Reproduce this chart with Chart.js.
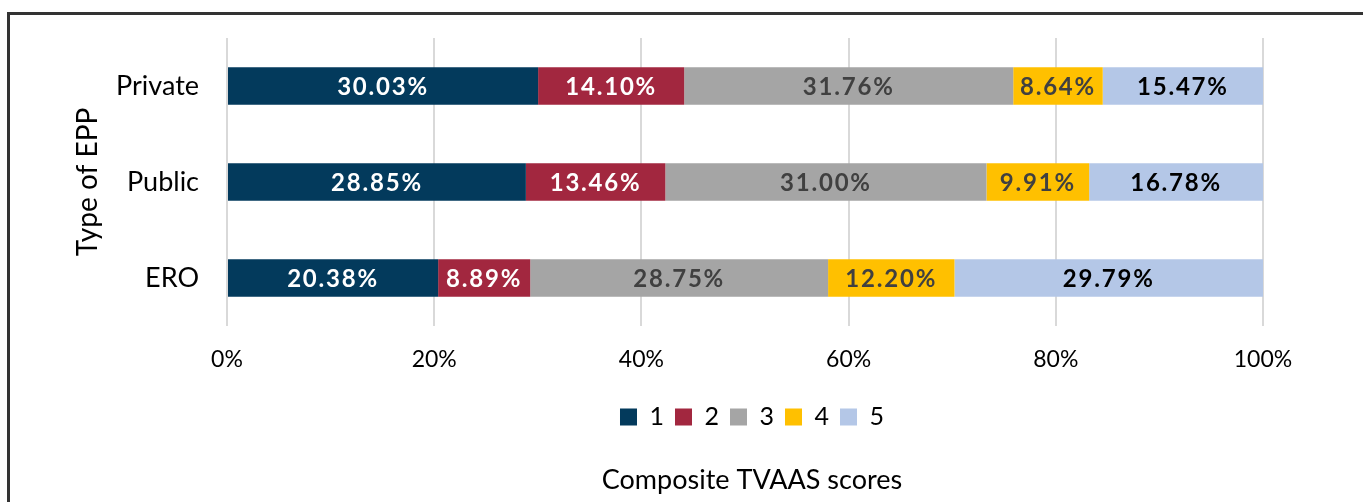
<!DOCTYPE html>
<html>
<head>
<meta charset="utf-8">
<script src="https://cdn.jsdelivr.net/npm/chart.js@4"></script>
<style>
  html, body { margin: 0; padding: 0; background: #fff; }
  #wrap { position: relative; width: 1363px; height: 502px; overflow: hidden; }
  #frame {
    position: absolute; left: 7px; top: 12px; right: -10px; bottom: -10px;
    border-top: 3px solid #333; border-left: 3px solid #333;
    pointer-events: none;
  }
</style>
</head>
<body>
<div id="wrap">
  <canvas id="chart" width="1363" height="502"></canvas>
  <div id="frame"></div>
</div>
<script>
// Datos
const categories = ['Private', 'Public', 'ERO'];
const seriesNames = ['1', '2', '3', '4', '5'];
const score1 = [30.03, 28.85, 20.38];
const score2 = [14.10, 13.46, 8.89];
const score3 = [31.76, 31.00, 28.75];
const score4 = [8.64, 9.91, 12.20];
const score5 = [15.47, 16.78, 29.79];
const xTicks = [0, 20, 40, 60, 80, 100];

const colors = ['#033A5C', '#A2273F', '#A5A5A5', '#FFC000', '#B4C7E7'];
const labelColors = ['#ffffff', '#ffffff', '#404040', '#404040', '#000000'];
const allSeries = [score1, score2, score3, score4, score5];

const FONT = 'Lato, "Open Sans", sans-serif';

// Etiquetas de valor dentro de cada segmento
const barLabels = {
  id: 'barLabels',
  afterDatasetsDraw(chart) {
    const ctx = chart.ctx;
    ctx.save();
    ctx.font = 'bold 24px ' + FONT;
    ctx.textAlign = 'center';
    ctx.textBaseline = 'middle';
    if ('letterSpacing' in ctx) ctx.letterSpacing = '1.8px';
    chart.data.datasets.forEach((ds, i) => {
      const meta = chart.getDatasetMeta(i);
      meta.data.forEach((bar, j) => {
        const cx = (bar.x + bar.base) / 2;
        ctx.fillStyle = labelColors[i];
        ctx.fillText(ds.data[j].toFixed(2) + '%', cx, bar.y + 1);
      });
    });
    ctx.restore();
  }
};

// Centrar leyenda y título inferior sobre el área del gráfico
const centerBottom = {
  id: 'centerBottom',
  afterLayout(chart) {
    const target = 752;
    [chart.legend, chart.titleBlock].forEach(box => {
      if (!box) return;
      const shift = target - (box.left + box.right) / 2;
      box.left += shift;
      box.right += shift;
    });
  }
};

const datasets = seriesNames.map((name, i) => ({
  label: name,
  data: allSeries[i],
  backgroundColor: colors[i],
  borderWidth: 0,
  barPercentage: 0.39,
  categoryPercentage: 1
}));

new Chart(document.getElementById('chart'), {
  type: 'bar',
  data: { labels: categories, datasets: datasets },
  plugins: [barLabels, centerBottom],
  options: {
    indexAxis: 'y',
    responsive: false,
    animation: false,
    layout: { padding: { top: 38, left: 60, right: 100, bottom: 2 } },
    scales: {
      x: {
        stacked: true,
        min: 0,
        max: 100,
        afterBuildTicks: scale => { scale.ticks = xTicks.map(v => ({ value: v })); },
        ticks: {
          callback: v => v + '%',
          color: '#000',
          font: { family: FONT, size: 23 },
          padding: 20
        },
        grid: { color: '#d9d9d9', lineWidth: 2, drawTicks: false },
        border: { display: false }
      },
      y: {
        stacked: true,
        afterFit: scale => { scale.width = 227 - 60; },
        ticks: {
          color: '#000',
          font: { family: FONT, size: 27 },
          padding: 20
        },
        grid: { display: false },
        border: { display: false },
        title: {
          display: true,
          text: 'Type of EPP',
          color: '#000',
          font: { family: FONT, size: 28 },
          padding: { top: 11, bottom: 0 }
        }
      }
    },
    plugins: {
      legend: {
        position: 'bottom',
        labels: {
          boxWidth: 17,
          boxHeight: 17,
          color: '#000',
          padding: 11,
          font: { family: FONT, size: 25 }
        }
      },
      title: {
        display: true,
        position: 'bottom',
        text: 'Composite TVAAS scores',
        color: '#000',
        font: { family: FONT, size: 27, weight: 'normal' },
        padding: { top: 24, bottom: 4 }
      },
      tooltip: { enabled: false }
    }
  }
});
</script>
</body>
</html>
